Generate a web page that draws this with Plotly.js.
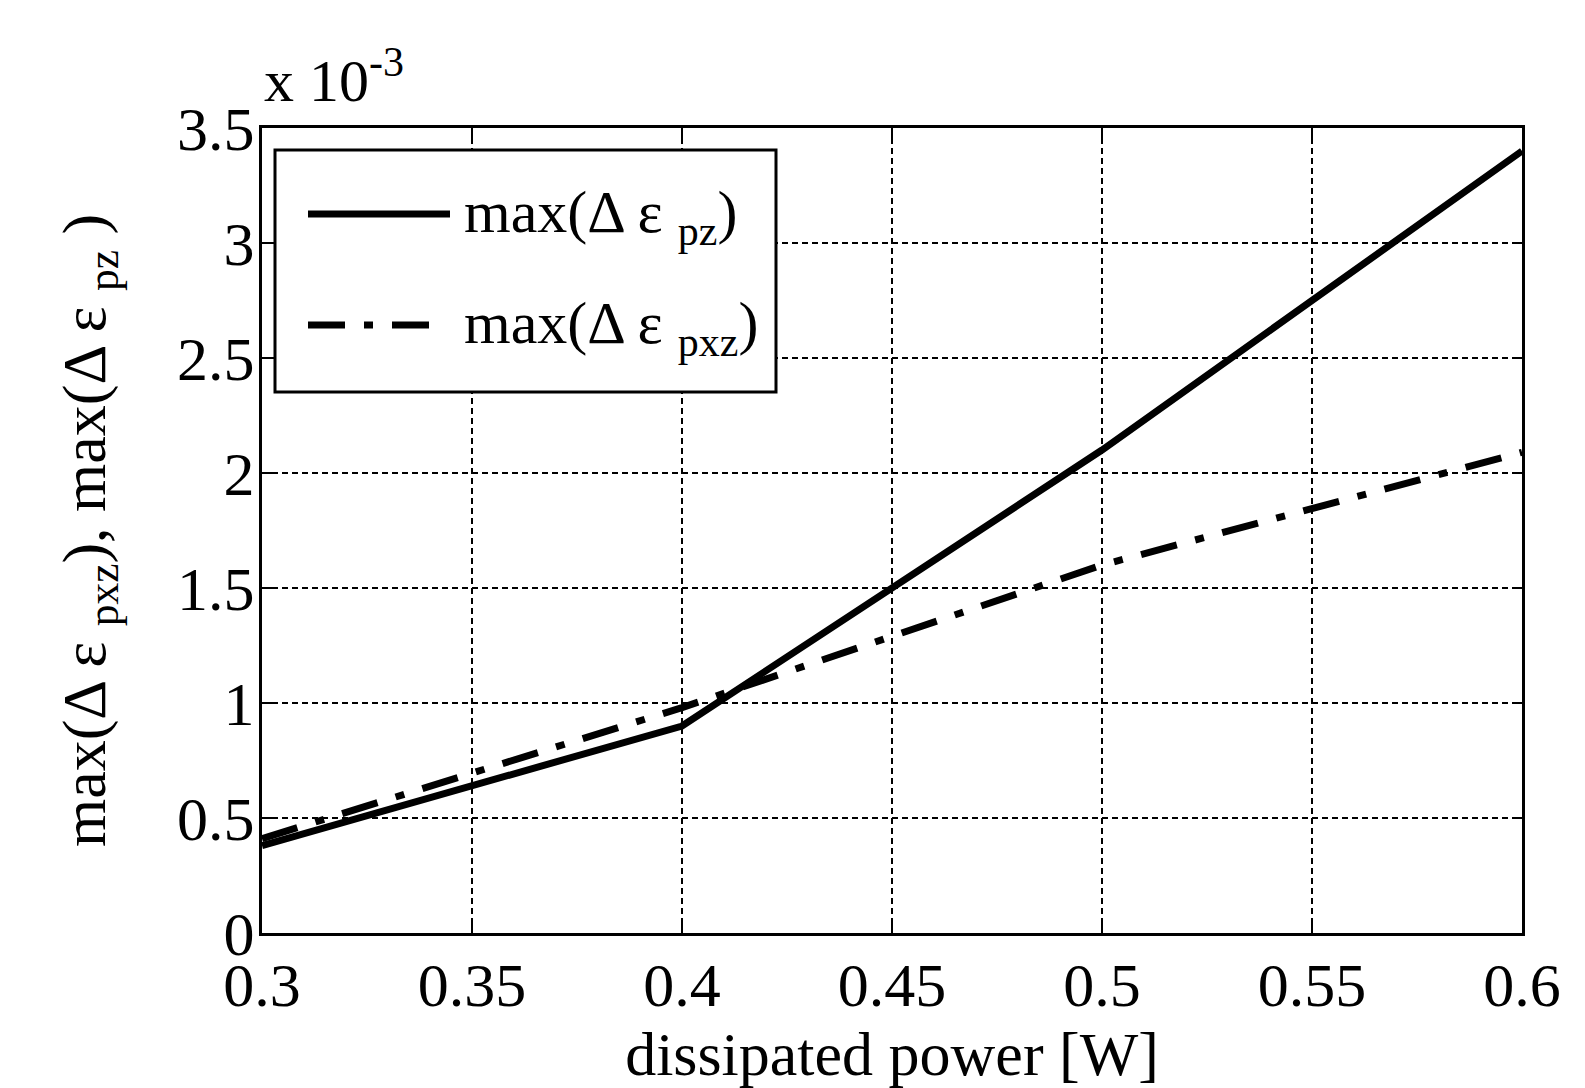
<!DOCTYPE html>
<html>
<head>
<meta charset="utf-8">
<script src="https://cdn.plot.ly/plotly-3.0.1.min.js"></script>
<style>html,body{margin:0;padding:0;background:#fff}#chart{width:1585px;height:1088px}</style>
</head>
<body>
<div id="chart"></div>
<script>
// Data (y values in units of 10^-3)
var power = [0.3, 0.4, 0.5, 0.6];
var maxEpz = [0.38, 0.90, 2.10, 3.40];
var maxEpxz = [0.41, 0.98, 1.60, 2.09];
var xTicks = [0.3, 0.35, 0.4, 0.45, 0.5, 0.55, 0.6];
var yTicks = [0, 0.5, 1, 1.5, 2, 2.5, 3, 3.5];
var seriesNames = ['max(Δ ε <sub>pz</sub>)', 'max(Δ ε <sub>pxz</sub>)'];
var xTitle = 'dissipated power [W]';
var yTitle = 'max(Δ ε <sub>pxz</sub>), max(Δ ε <sub>pz</sub> )';
var scaleNote = 'x 10<sup>-3</sup>';

var FONT = 'Liberation Serif, Times New Roman, serif';
var M = {l: 262, r: 63, t: 128, b: 155};
var W = 1585 - M.l - M.r, H = 1088 - M.t - M.b;
function px(x) { return (x - M.l) / W; }
function py(y) { return (1088 - M.b - y) / H; }
var DASHDOT = '37px,19px,9px,19px';

var traces = [
  {x: power, y: maxEpz, mode: 'lines', name: seriesNames[0], line: {color: '#000', width: 7}, showlegend: false},
  {x: power, y: maxEpxz, mode: 'lines', name: seriesNames[1], line: {color: '#000', width: 7, dash: DASHDOT}, showlegend: false}
];

var layout = {
  width: 1585, height: 1088,
  margin: M,
  paper_bgcolor: '#fff', plot_bgcolor: '#fff',
  font: {family: FONT, color: '#000', size: 60},
  showlegend: false,
  xaxis: {
    range: [0.3, 0.6], tickvals: xTicks, ticktext: xTicks.map(String),
    showgrid: true, gridcolor: '#000', gridwidth: 2.5, griddash: '6px,4px',
    zeroline: false, showline: true, linecolor: '#000', linewidth: 3, mirror: 'ticks',
    ticks: 'inside', ticklen: 10, tickwidth: 2, tickcolor: '#000',
    tickfont: {family: FONT, size: 62}, ticklabelstandoff: -4,
    title: {text: xTitle, font: {family: FONT, size: 62}, standoff: 23}
  },
  yaxis: {
    range: [0, 3.5], tickvals: yTicks, ticktext: yTicks.map(String),
    showgrid: true, gridcolor: '#000', gridwidth: 2.5, griddash: '6px,4px',
    zeroline: false, showline: true, linecolor: '#000', linewidth: 3, mirror: 'ticks',
    ticks: 'inside', ticklen: 10, tickwidth: 2, tickcolor: '#000',
    tickfont: {family: FONT, size: 62}, ticklabelstandoff: -8,
    title: {text: yTitle, font: {family: FONT, size: 62}, standoff: 52}
  },
  shapes: [
    {type: 'rect', xref: 'paper', yref: 'paper', x0: px(275), x1: px(776), y0: py(392), y1: py(150),
     line: {color: '#000', width: 3}, fillcolor: '#fff', layer: 'above'},
    {type: 'line', xref: 'paper', yref: 'paper', x0: px(308), x1: px(450), y0: py(214), y1: py(214),
     line: {color: '#000', width: 7}, layer: 'above'},
    {type: 'line', xref: 'paper', yref: 'paper', x0: px(308), x1: px(437), y0: py(325), y1: py(325),
     line: {color: '#000', width: 7, dash: DASHDOT}, layer: 'above'}
  ],
  annotations: [
    {xref: 'paper', yref: 'paper', x: px(462), y: py(216), xanchor: 'left', yanchor: 'middle',
     text: seriesNames[0], showarrow: false, font: {family: FONT, size: 60}},
    {xref: 'paper', yref: 'paper', x: px(462), y: py(327), xanchor: 'left', yanchor: 'middle',
     text: seriesNames[1], showarrow: false, font: {family: FONT, size: 60}},
    {xref: 'paper', yref: 'paper', x: px(262), y: py(116), xanchor: 'left', yanchor: 'bottom',
     text: scaleNote, showarrow: false, font: {family: FONT, size: 60}}
  ]
};

Plotly.newPlot('chart', traces, layout, {displayModeBar: false, staticPlot: true});
</script>
</body>
</html>
